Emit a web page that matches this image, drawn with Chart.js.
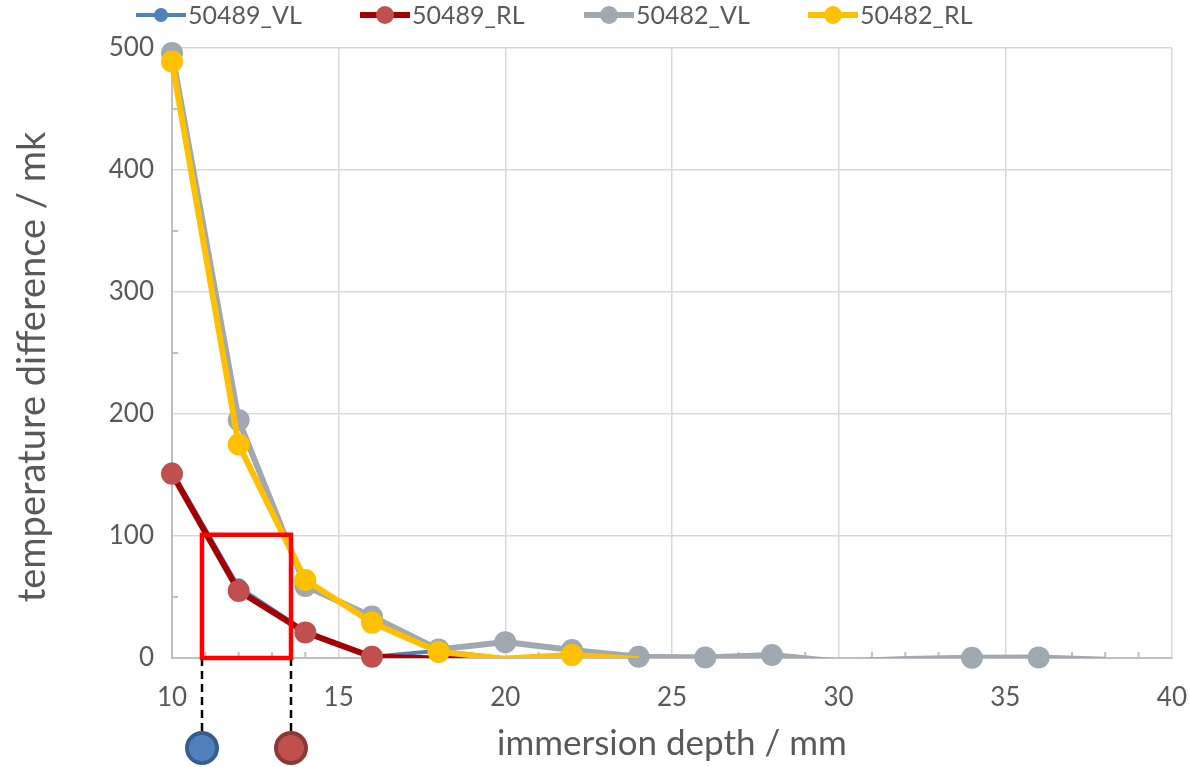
<!DOCTYPE html>
<html>
<head>
<meta charset="utf-8">
<script src="https://cdn.jsdelivr.net/npm/chart.js@4.4.0/dist/chart.umd.min.js"></script>
<style>
  html, body { margin: 0; padding: 0; background: #fff; }
  #wrap { width: 1189px; height: 767px; }
</style>
</head>
<body>
<div id="wrap"><canvas id="chartJS"></canvas></div>
<script>
// immersion depth in mm
const depth = [10, 12, 14, 16, 18, 20, 22, 24, 26, 28, 30, 32, 34, 36, 38];

// temperature difference in mK (negative values sit below the axis and are cut off)
const vl50489 = [153, 58, 22, 1, 6, -0.5, -0.5, 0.5, 0.3, 2, -2.5, -1, 0, 0.5, -1.5];
const rl50489 = [151, 55, 21, 1, -0.5, -0.8, null, null, null, null, null, null, null, null, null];
const vl50482 = [496, 195, 59, 34, 7, 13, 6.5, 1, 0.4, 2.5, -3, -0.8, 0.2, 0.5, -1.5];
const rl50482 = [489, 175, 64, 29, 5, -0.5, 2.5, -0.8, null, null, null, null, null, null, null];

const seriesNames = ["50489_VL", "50489_RL", "50482_VL", "50482_RL"];
const seriesValues = [vl50489, rl50489, vl50482, rl50482];

// marked region (red box) and the two marker circles below the axis
const boxDepth = [10.9, 13.57];
const boxTop = 101;

const lineColors = ["#4F81BD", "#A50000", "#A0A8B1", "#FFC000"];
const pointColors = ["#4F81BD", "#C0504D", "#A0A8B1", "#FFC000"];
const lineWidths = [4, 6, 6, 6];
const pointSizes = [9, 11, 11, 11];

const textColor = "#595959";
const fontName = "Lato, 'Open Sans', sans-serif";
const yTitle = "temperature difference / mk";

const datasets = [];
seriesValues.forEach((vals, i) => {
    const pts = depth.map((x, k) => ({ x: x, y: vals[k] })).filter(p => p.y !== null);
    // the line, cut at the x axis
    datasets.push({
        label: seriesNames[i],
        data: pts,
        borderColor: lineColors[i],
        borderWidth: lineWidths[i],
        pointRadius: 0,
        pointHoverRadius: 0,
        tension: 0,
        fill: false,
        clip: { left: false, top: false, right: false, bottom: 0 },
        order: 8 - 2 * i,
    });
    // the markers, not cut
    datasets.push({
        label: seriesNames[i] + " points",
        data: pts.filter(p => p.y >= 0),
        showLine: false,
        pointRadius: pointSizes[i],
        pointHoverRadius: pointSizes[i],
        pointBackgroundColor: pointColors[i],
        pointBorderWidth: 0,
        clip: false,
        order: 7 - 2 * i,
    });
});

const extras = {
    id: "extras",
    beforeDatasetsDraw(chart) {
        const { ctx, chartArea: a, scales: { x, y } } = chart;
        ctx.save();
        ctx.strokeStyle = "#bfbfbf";
        ctx.lineWidth = 2;
        // minor ticks
        for (let v = 11; v < 40; v++) {
            if (v % 5 === 0) continue;
            const px = x.getPixelForValue(v);
            ctx.beginPath();
            ctx.moveTo(px, a.bottom);
            ctx.lineTo(px, a.bottom - 6);
            ctx.stroke();
        }
        for (let v = 50; v < 500; v += 100) {
            const py = y.getPixelForValue(v);
            ctx.beginPath();
            ctx.moveTo(a.left, py);
            ctx.lineTo(a.left + 6, py);
            ctx.stroke();
        }
        ctx.restore();
    },
    afterDatasetsDraw(chart) {
        const { ctx, chartArea: a, scales: { x, y } } = chart;
        const x1 = x.getPixelForValue(boxDepth[0]);
        const x2 = x.getPixelForValue(boxDepth[1]);
        const yt = y.getPixelForValue(boxTop);
        const y0 = y.getPixelForValue(0);
        ctx.save();
        // dashed drop lines
        ctx.strokeStyle = "#000";
        ctx.lineWidth = 2.5;
        ctx.setLineDash([8, 5]);
        [x1, x2].forEach(px => {
            ctx.beginPath();
            ctx.moveTo(px, y0);
            ctx.lineTo(px, a.bottom + 76);
            ctx.stroke();
        });
        ctx.setLineDash([]);
        // red box
        ctx.strokeStyle = "#FF0000";
        ctx.lineWidth = 4.5;
        ctx.strokeRect(x1, yt, x2 - x1, y0 - yt);
        // circles
        const circ = [[x1, "#4F81BD", "#385D8A"], [x2, "#C0504D", "#8C3836"]];
        circ.forEach(([px, fillC, edge]) => {
            ctx.beginPath();
            ctx.arc(px, a.bottom + 90, 15, 0, Math.PI * 2);
            ctx.fillStyle = fillC;
            ctx.fill();
            ctx.lineWidth = 4;
            ctx.strokeStyle = edge;
            ctx.stroke();
        });
        ctx.restore();
    },
    afterDraw(chart) {
        const ctx = chart.ctx;
        ctx.save();
        // y axis title
        ctx.font = "38px " + fontName;
        ctx.fillStyle = textColor;
        ctx.textAlign = "center";
        ctx.textBaseline = "middle";
        ctx.translate(33, 367);
        ctx.rotate(-Math.PI / 2);
        ctx.fillText(yTitle, 0, 0);
        ctx.restore();

        // legend: line with a marker in the middle, then the name
        ctx.save();
        ctx.font = "25px " + fontName;
        ctx.textBaseline = "middle";
        seriesNames.forEach((name, i) => {
            const x0 = 136 + 224 * i;
            const cy = 15;
            ctx.strokeStyle = lineColors[i];
            ctx.lineWidth = lineWidths[i];
            ctx.beginPath();
            ctx.moveTo(x0, cy);
            ctx.lineTo(x0 + 50, cy);
            ctx.stroke();
            ctx.beginPath();
            ctx.arc(x0 + 25, cy, i === 0 ? 7 : 9, 0, Math.PI * 2);
            ctx.fillStyle = pointColors[i];
            ctx.fill();
            ctx.fillStyle = textColor;
            ctx.fillText(name, x0 + 52, cy + 1);
        });
        ctx.restore();
    }
};

const config = {
    type: "line",
    data: { datasets: datasets },
    options: {
        responsive: true,
        maintainAspectRatio: false,
        animation: false,
        layout: { padding: { top: 48, right: 0, left: 0, bottom: 0 } },
        plugins: {
            legend: { display: false },
            tooltip: { enabled: false },
        },
        scales: {
            x: {
                type: "linear",
                min: 10,
                max: 40,
                ticks: { stepSize: 5, color: textColor, font: { family: fontName, size: 26 }, padding: 2 },
                grid: { color: "#d9d9d9", lineWidth: 1.5, drawTicks: true, tickLength: 22, tickColor: "rgba(0,0,0,0)" },
                border: { color: "#bfbfbf", width: 2 },
                title: { display: true, text: "immersion depth / mm", color: textColor, font: { family: fontName, size: 35 }, padding: { top: 0, bottom: 2 } },
                afterFit: s => { s.height = 109; },
            },
            y: {
                min: 0,
                max: 500,
                ticks: { stepSize: 100, color: textColor, font: { family: fontName, size: 26 }, padding: 2 },
                grid: { color: "#d9d9d9", lineWidth: 1.5, drawTicks: true, tickLength: 16, tickColor: "rgba(0,0,0,0)" },
                border: { color: "#bfbfbf", width: 2 },
                title: { display: false },
                afterFit: s => { s.width = 172; },
            },
        },
    },
    plugins: [extras],
};

const myChart = new Chart(document.getElementById("chartJS"), config);
</script>
</body>
</html>
